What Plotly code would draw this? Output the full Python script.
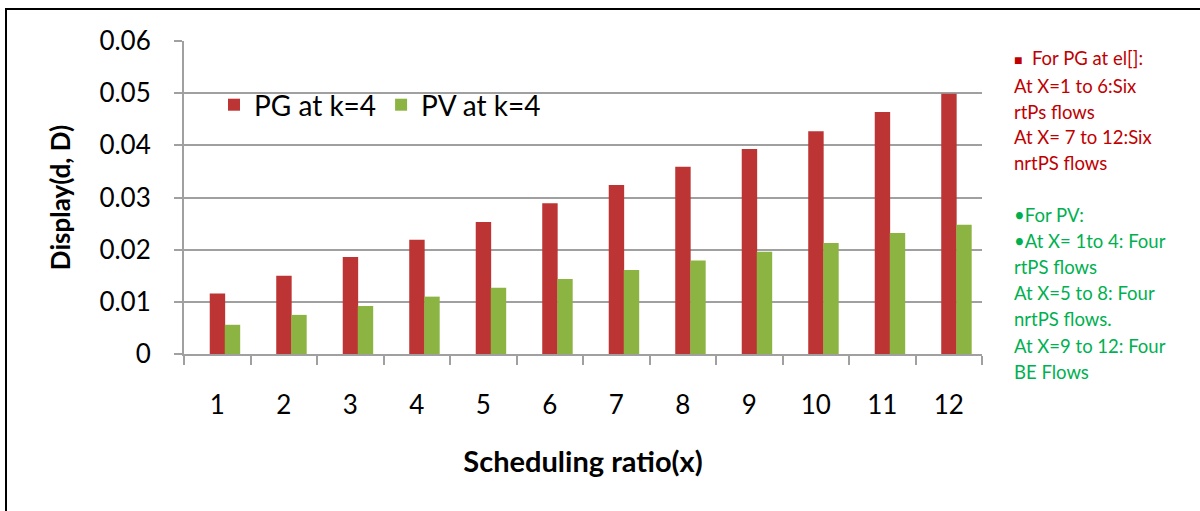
import plotly.graph_objects as go

categories = [str(i) for i in range(1, 13)]
pg_values = [0.0116, 0.0150, 0.0186, 0.0219, 0.0253, 0.0289,
             0.0324, 0.0359, 0.0393, 0.0427, 0.0464, 0.0499]
pv_values = [0.0056, 0.0075, 0.0092, 0.0110, 0.0127, 0.0144,
             0.0161, 0.0179, 0.0196, 0.0213, 0.0232, 0.0248]
y_ticks = [0, 0.01, 0.02, 0.03, 0.04, 0.05, 0.06]

pg_lines = ["At X=1 to 6:Six", "rtPs flows", "At X= 7 to 12:Six", "nrtPS flows"]
pv_lines = ["•For PV:", "•At X= 1to 4: Four", "rtPS flows", "At X=5 to 8: Four",
            "nrtPS flows.", "At X=9 to 12: Four", "BE Flows"]

FONT = "Lato, 'Open Sans', sans-serif"
RED = "#BC3433"
GREEN = "#8CB443"
GRID = "#A0A0A0"

fig = go.Figure()
fig.add_trace(go.Bar(x=categories, y=pg_values, name="PG at k=4",
                     marker=dict(color=RED, line=dict(width=0)),
                     width=0.232, offset=-0.113))
fig.add_trace(go.Bar(x=categories, y=pv_values, name="PV at k=4",
                     marker=dict(color=GREEN, line=dict(width=0)),
                     width=0.232, offset=0.113))

W, H = 1200, 511
L, R, T, B = 184, 218, 41, 157
pw, ph = W - L - R, H - T - B

def px_x(x):
    return (x - L) / pw

def px_y(y):
    return (H - B - y) / ph

annotations = []
annotations.append(dict(x=px_x(1012), y=px_y(58), xref="paper", yref="paper",
                        xanchor="left", yanchor="middle", showarrow=False,
                        text="<span style='font-size:14px'>■</span>  For PG at el[]:",
                        font=dict(family=FONT, size=18.5, color="#C00000")))
for i, t in enumerate(pg_lines):
    annotations.append(dict(x=px_x(1012), y=px_y(86 + 25.7 * i), xref="paper", yref="paper",
                            xanchor="left", yanchor="middle", showarrow=False, text=t,
                            font=dict(family=FONT, size=18.5, color="#C00000")))
for i, t in enumerate(pv_lines):
    annotations.append(dict(x=px_x(1012), y=px_y(215 + 26.1 * i), xref="paper", yref="paper",
                            xanchor="left", yanchor="middle", showarrow=False, text=t,
                            font=dict(family=FONT, size=18.5, color="#00B050")))

fig.update_layout(
    width=W, height=H,
    margin=dict(l=L, r=R, t=T, b=B, pad=0),
    paper_bgcolor="white", plot_bgcolor="white",
    barmode="group",
    font=dict(family=FONT, color="black"),
    showlegend=True,
    legend=dict(orientation="h", x=px_x(214), y=px_y(105), xanchor="left", yanchor="middle",
                font=dict(family=FONT, size=28, color="black"),
                bgcolor="rgba(0,0,0,0)", itemwidth=30, tracegroupgap=0),
    xaxis=dict(type="category", tickson="boundaries", ticks="outside", ticklen=9,
               tickcolor=GRID, tickwidth=2, showline=True, linecolor=GRID, linewidth=2,
               showgrid=False, tickfont=dict(size=26, family=FONT),
               ticklabelstandoff=27,
               title=dict(text="<b>Scheduling ratio(x)</b>", font=dict(size=29, family=FONT),
                          standoff=32)),
    yaxis=dict(range=[0, 0.06], tickvals=y_ticks, ticktext=[f"{v:g}" for v in y_ticks],
               ticks="outside", ticklen=8, tickcolor=GRID, tickwidth=2,
               showline=True, linecolor=GRID, linewidth=2,
               showgrid=True, gridcolor=GRID, gridwidth=2, zeroline=False,
               tickfont=dict(size=26, family=FONT), ticklabelstandoff=18,
               title=dict(text="<b>Display(d, D)</b>", font=dict(size=26, family=FONT),
                          standoff=21)),
    annotations=annotations,
    shapes=[dict(type="rect", xref="paper", yref="paper",
                 x0=px_x(6), x1=px_x(1300), y0=px_y(600), y1=px_y(9),
                 line=dict(color="black", width=2), fillcolor="rgba(0,0,0,0)", layer="below")],
)

fig.write_html("out.html")
